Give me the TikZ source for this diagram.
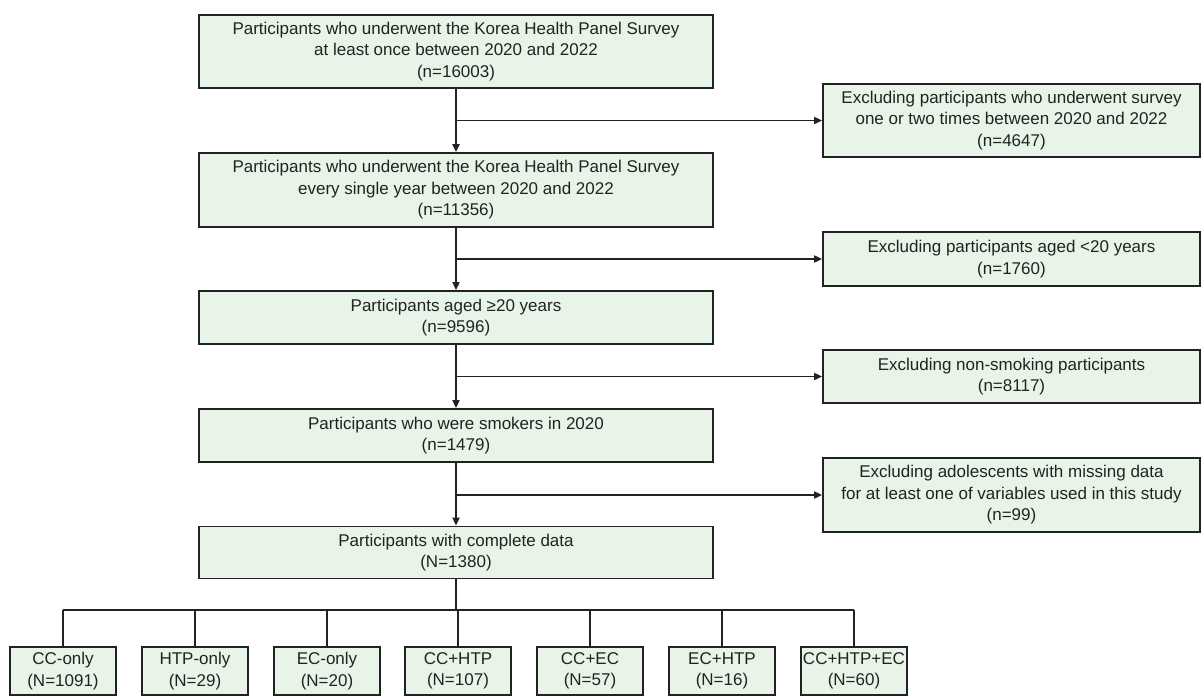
\documentclass[tikz,border=0pt]{standalone}
\usepackage{fontspec}
\setmainfont{Liberation Sans}
\usetikzlibrary{arrows.meta, calc}
\definecolor{boxgreen}{RGB}{233,244,233}
\definecolor{linegray}{RGB}{34,34,34}

\begin{document}
\begin{tikzpicture}[x=1pt, y=-1pt,
  box/.style = {draw=linegray, line width=1.8pt, fill=boxgreen, text=linegray,
    inner sep=0pt, align=center, font=\fontsize{17}{21.5}\selectfont},
  mainbox/.style = {box, minimum width=514pt},
  exclbox/.style = {box, minimum width=377pt},
  groupbox/.style = {box, minimum width=106pt, minimum height=48pt},
  arr/.style = {draw=linegray, line width=1.8pt, -{Triangle[length=8pt, width=7pt]}},
  link/.style = {draw=linegray, line width=1.8pt}]

  \useasboundingbox (0,0) rectangle (1202,696);

  % Main column
  \node[mainbox, minimum height=73pt] (b1) at (456,51.5)
    {Participants who underwent the Korea Health Panel Survey\\ at least once between 2020 and 2022\\ (n=16003)};
  \node[mainbox, minimum height=74pt] (b2) at (456,190)
    {Participants who underwent the Korea Health Panel Survey\\ every single year between 2020 and 2022\\ (n=11356)};
  \node[mainbox, minimum height=53pt] (b3) at (456,317.5)
    {Participants aged ≥20 years\\ (n=9596)};
  \node[mainbox, minimum height=53pt] (b4) at (456,435.5)
    {Participants who were smokers in 2020\\ (n=1479)};
  \node[mainbox, minimum height=52pt] (b5) at (456,552.5)
    {Participants with complete data\\ (N=1380)};

  % Exclusion boxes
  \node[exclbox, minimum height=73pt] (e1) at (1011.5,120.5)
    {Excluding participants who underwent survey\\ one or two times between 2020 and 2022\\ (n=4647)};
  \node[exclbox, minimum height=54pt] (e2) at (1011.5,259)
    {Excluding participants aged <20 years\\ (n=1760)};
  \node[exclbox, minimum height=53pt] (e3) at (1011.5,376.5)
    {Excluding non-smoking participants\\ (n=8117)};
  \node[exclbox, minimum height=74pt] (e4) at (1011.5,495)
    {Excluding adolescents with missing data\\ for at least one of variables used in this study\\ (n=99)};

  % Groups
  \node[groupbox] (g1) at (63,671)  {CC-only\\ (N=1091)};
  \node[groupbox] (g2) at (195,671) {HTP-only\\ (N=29)};
  \node[groupbox] (g3) at (327,671) {EC-only\\ (N=20)};
  \node[groupbox] (g4) at (458,671) {CC+HTP\\ (N=107)};
  \node[groupbox] (g5) at (590,671) {CC+EC\\ (N=57)};
  \node[groupbox] (g6) at (722,671) {EC+HTP\\ (N=16)};
  \node[groupbox] (g7) at (854,671) {CC+HTP+EC\\ (N=60)};

  % Arrows down and to the side
  \draw[arr, line width=2.4pt] (b1) -- (b2);
  \draw[arr] (b2) -- (b3);
  \draw[arr] (b3) -- (b4);
  \draw[arr] (b4) -- (b5);
  \coordinate (j1) at (b1.south |- e1.west);
  \coordinate (j2) at (b2.south |- e2.west);
  \coordinate (j3) at (b3.south |- e3.west);
  \coordinate (j4) at (b4.south |- e4.west);
  \draw[arr] (j1) -- (e1.west);
  \draw[arr] (j2) -- (e2.west);
  \draw[arr] (j3) -- (e3.west);
  \draw[arr] (j4) -- (e4.west);

  % Split into groups
  \coordinate (bus) at (456,610);
  \draw[link] (b5.south) -- (bus);
  \draw[link] (g1.north |- bus) -- (g7.north |- bus);
  \foreach \g in {g1,g2,g3,g4,g5,g6,g7}
    \draw[link, line width=2.2pt] (\g.north |- bus) -- (\g.north);

\end{tikzpicture}
\end{document}
